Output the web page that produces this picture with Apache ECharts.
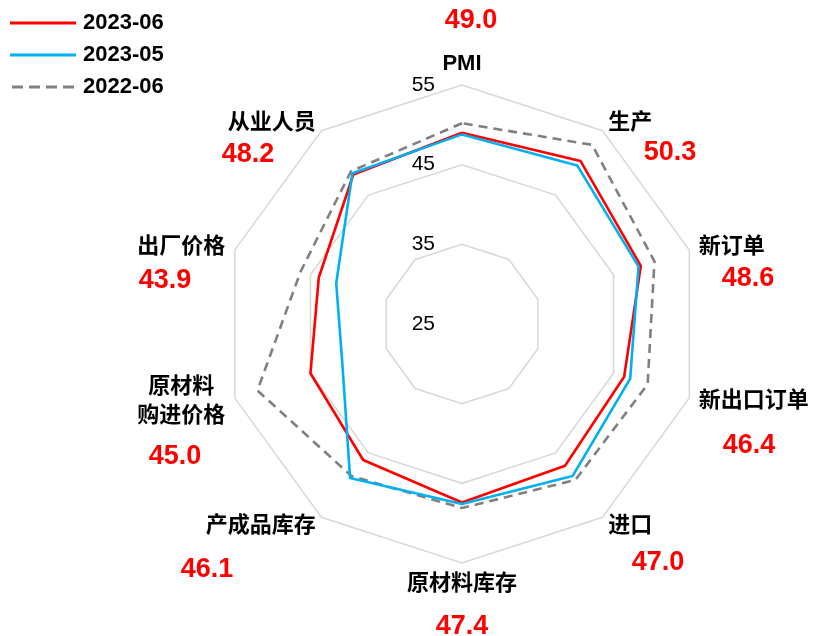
<!DOCTYPE html>
<html>
<head>
<meta charset="utf-8">
<script src="https://cdn.jsdelivr.net/npm/echarts@6/dist/echarts.min.js"></script>
<style>
  html, body { margin: 0; padding: 0; background: #fff; }
  #chart { width: 819px; height: 636px; }
</style>
</head>
<body>
<div id="chart"></div>
<script>
// Manufacturing PMI sub-indices, listed clockwise starting from the top axis
const indicators = ['PMI', '生产', '新订单', '新出口订单', '进口', '原材料库存', '产成品库存', '原材料\n购进价格', '出厂价格', '从业人员'];
const jun2023 = [49.0, 50.3, 48.6, 46.4, 47.0, 47.4, 46.1, 45.0, 43.9, 48.2];
const may2023 = [48.8, 49.6, 48.3, 47.2, 48.6, 47.6, 48.9, 40.8, 41.6, 48.4];
const jun2022 = [50.2, 52.8, 50.4, 49.5, 49.2, 48.1, 48.6, 52.0, 46.3, 48.7];
const seriesNames = ['2023-06', '2023-05', '2022-06'];
const axisMin = 25, axisMax = 55;

// where each red value label sits (centre point, px)
const valueLabelPos = [
  [471, 21], [670, 153], [748, 279], [749, 446], [658, 563],
  [462, 627], [207, 570], [175, 457], [165, 281], [248, 155]
];

// ECharts lays radar axes out counter-clockwise, so keep the first axis and reverse the rest
const order = [0].concat(indicators.map((_, i) => i).slice(1).reverse());
const pick = arr => order.map(i => arr[i]);

const latin = '"Liberation Sans", Arial, "Noto Sans CJK SC", sans-serif';

const indicatorOpts = pick(indicators).map((name, k) => {
  const o = { name: name, min: axisMin, max: axisMax };
  if (k === 0) {
    o.axisLabel = {
      show: true, color: '#000', fontSize: 21, fontFamily: latin, margin: 27,
      fontWeight: 'normal', showMinLabel: true, showMaxLabel: true
    };
  }
  return o;
});

const chart = echarts.init(document.getElementById('chart'), null, { renderer: 'canvas' });

const solidIcon = 'path://M0,0H66V3H0Z';
const dashIcon = 'path://M0,0h11v3h-11z M17,0h11v3h-11z M34,0h11v3h-11z M51,0h11v3h-11z';

const option = {
  backgroundColor: '#fff',
  animation: false,
  legend: {
    orient: 'vertical',
    left: 5,
    top: 7,
    itemWidth: 66,
    itemHeight: 3,
    itemGap: 10,
    data: [
      { name: seriesNames[0], icon: solidIcon, itemStyle: { color: '#ff0000' } },
      { name: seriesNames[1], icon: solidIcon, itemStyle: { color: '#00b0f0' } },
      { name: seriesNames[2], icon: dashIcon, itemStyle: { color: '#808080' } }
    ],
    textStyle: { fontSize: 22, fontWeight: 'bold', color: '#000', fontFamily: latin, padding: [0, 0, 0, 2] }
  },
  radar: {
    center: [462, 324],
    radius: 239,
    startAngle: 90,
    shape: 'polygon',
    splitNumber: 3,
    nameGap: 10,
    indicator: indicatorOpts,
    axisName: {
      color: '#000',
      fontSize: 22,
      fontWeight: 'bold',
      fontFamily: latin,
      formatter: function (name) {
        if (name.indexOf('\n') >= 0) {
          return name.split('\n').map(s => '{c|' + s + '}').join('\n');
        }
        return name;
      },
      rich: {
        c: { align: 'center', fontSize: 22, fontWeight: 'bold', color: '#000', fontFamily: latin, lineHeight: 29 }
      }
    },
    axisLine: { show: false },
    axisTick: { show: false },
    axisLabel: { show: false },
    splitArea: { show: false },
    splitLine: { lineStyle: { color: '#d9d9d9', width: 1.6 } }
  },
  series: [
    {
      name: seriesNames[2], type: 'radar', symbol: 'none', z: 2,
      itemStyle: { color: '#808080' },
      lineStyle: { color: '#808080', width: 2.6, type: [9, 6] },
      data: [{ value: pick(jun2022), name: seriesNames[2] }]
    },
    {
      name: seriesNames[0], type: 'radar', symbol: 'none', z: 3,
      itemStyle: { color: '#ff0000' },
      lineStyle: { color: '#ff0000', width: 2.6 },
      data: [{ value: pick(jun2023), name: seriesNames[0] }]
    },
    {
      name: seriesNames[1], type: 'radar', symbol: 'none', z: 4,
      itemStyle: { color: '#00b0f0' },
      lineStyle: { color: '#00b0f0', width: 2.6 },
      data: [{ value: pick(may2023), name: seriesNames[1] }]
    }
  ],
  graphic: jun2023.map((v, i) => ({
    type: 'text',
    x: valueLabelPos[i][0],
    y: valueLabelPos[i][1],
    silent: true,
    style: {
      text: v.toFixed(1),
      fill: '#ff0000',
      font: 'bold 27px ' + latin,
      textAlign: 'center',
      textVerticalAlign: 'middle'
    }
  }))
};

chart.setOption(option);
</script>
</body>
</html>
